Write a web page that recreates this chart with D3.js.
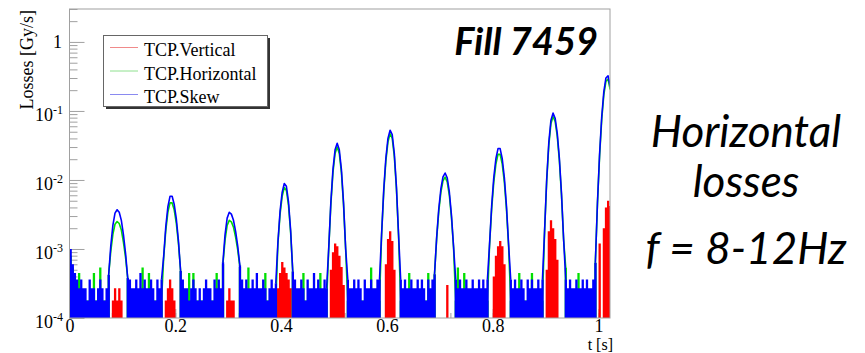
<!DOCTYPE html>
<html>
<head>
<meta charset="utf-8">
<script src="https://cdn.jsdelivr.net/npm/d3@7"></script>
<style>
  html, body { margin: 0; padding: 0; background: #fff; }
  svg { display: block; }
</style>
</head>
<body>
<svg id="chart" width="865" height="353"></svg>
<script>
// Collimator (TCP) beam-loss readings, decimated into 4 ms bins.
// Each bin keeps the highest and lowest reading, in units of 1e-4 Gy/s (0 = no signal).
const BIN_WIDTH = 0.004;   // s
const UNIT = 1e-4;         // Gy/s

const seriesNames = ["TCP.Vertical", "TCP.Horizontal", "TCP.Skew"];
const xTickValues = [0, 0.2, 0.4, 0.6, 0.8, 1];
const yTickExponents = [0, -1, -2, -3, -4];
const fillLabel = "Fill 7459";
const noteLines = ["Horizontal", "losses", "f = 8-12Hz"];

const skewMax = [
  10, 6, 4.5, 3.6, 2.7, 3.6, 2.7, 2.7, 1.8, 3.6, 2.7, 2.7, 1.8, 2.7, 3.6, 2.7, 1.8, 2.7,
  4.2, 11, 22, 33, 37, 34, 26, 16, 8.6, 3.8,
  3.6, 2.7, 2.7, 3.6, 2.7, 4.5, 2.7, 3.6, 2.7, 2.7, 3.6, 2.7, 1.8, 3.6, 2.7, 3.6,
  7.8, 21, 41, 58, 58, 44, 27, 13, 4.8,
  3.6, 2.7, 2.7, 1.8, 2.7, 3.6, 2.7, 1.8, 2.7, 1.8, 2.7, 3.6, 2.7, 2.7, 1.8, 3.6, 2.7, 3.6, 2.7,
  6.4, 16, 28, 34, 32, 26, 18, 11, 5.8,
  3.6, 2.7, 3.6, 2.7, 2.7, 3.6, 2.7, 4.5, 2.7, 2.7, 3.6, 2.7, 1.8, 2.7, 3.6, 2.7, 3.2,
  12.6, 35, 66, 89, 81, 48, 18.7, 4.7,
  3.6, 2.7, 2.7, 3.6, 2.7, 1.8, 3.6, 2.7, 2.7, 4.5, 2.7, 3.6, 2.7, 2.7, 3.6, 2.7,
  10.2, 47, 141, 273, 340, 273, 141, 47, 10.2,
  3.6, 2.7, 2.7, 3.6, 2.7, 3.6, 2.7, 1.8, 3.6, 2.7, 2.7, 3.6, 2.7, 2.7, 3.6, 3.6,
  16.8, 72, 206, 400, 526, 454, 242, 80, 16.3,
  3.6, 2.7, 3.6, 2.7, 2.7, 3.6, 2.7, 2.7, 3.6, 2.7, 3.6, 2.7, 1.8, 3.6, 2.7, 3.6,
  4.3, 14.6, 38, 74, 111, 126, 107, 67, 31, 10.8,
  3.6, 2.7, 3.6, 2.7, 2.7, 3.6, 2.7, 2.7, 3.6, 2.7, 2.7, 3.6, 2.7, 3.6, 2.7, 3.6,
  11.7, 42, 108, 203, 285, 285, 203, 108, 42, 11.7,
  3.6, 2.7, 3.6, 2.7, 2.7, 3.6, 2.7, 1.8, 3.6, 2.7, 3.6, 2.7, 2.7, 3.6, 2.7, 3.6,
  18, 101, 347, 726, 930, 785, 475, 206, 64, 14,
  3.6, 2.7, 3.6, 2.7, 2.7, 3.6, 2.7, 2.7, 3.6, 2.7, 3.6, 2.7, 2.7, 3.6,
  6.3, 47, 236, 809, 1890, 3005, 3236, 2270
];

const skewMin = [
  0,0,0,0, 0,0,0,0, 0,0,0,0, 0,0,0,0, 0,0,
  0, 11, 22, 33, 37, 34, 26, 16, 8.6, 0,
  0,0,0,0, 0,0,0,0, 0,0,0,0, 0,0,0,0,
  7.8, 21, 41, 58, 58, 44, 27, 13, 0,
  0,0,0,0, 0,0,0,0, 0,0,0,0, 0,0,0,0, 0,0,0,
  0, 16, 28, 34, 32, 26, 18, 11, 0,
  0,0,0,0, 0,0,0,0, 0,0,0,0, 0,0,0,0, 0,
  12.6, 35, 66, 89, 81, 48, 18.7, 0,
  0,0,0,0, 0,0,0,0, 0,0,0,0, 0,0,0,0,
  10.2, 47, 141, 273, 340, 273, 141, 47, 10.2,
  0,0,0,0, 0,0,0,0, 0,0,0,0, 0,0,0,0,
  16.8, 72, 206, 400, 526, 454, 242, 80, 16.3,
  0,0,0,0, 0,0,0,0, 0,0,0,0, 0,0,0,0,
  0, 14.6, 38, 74, 111, 126, 107, 67, 31, 10.8,
  0,0,0,0, 0,0,0,0, 0,0,0,0, 0,0,0,0,
  11.7, 42, 108, 203, 285, 285, 203, 108, 42, 11.7,
  0,0,0,0, 0,0,0,0, 0,0,0,0, 0,0,0,0,
  18, 101, 347, 726, 930, 785, 475, 206, 64, 14,
  0,0,0,0, 0,0,0,0, 0,0,0,0, 0,0,
  0, 47, 236, 809, 1890, 3005, 3236, 2270
];

const horizontalMax = [
  8, 5.4, 3.6, 2.7, 4.5, 1.8, 1.8, 1.8, 1.8, 1.8, 1.8, 4.5, 1.8, 1.8, 5.4, 1.8, 1.8, 1.8,
  4.2, 9.2, 16.3, 22.8, 25, 23.4, 18.8, 12.5, 7.5, 3.8,
  1.8, 1.8, 1.8, 1.8, 1.8, 1.8, 5.4, 1.8, 1.8, 4.5, 1.8, 1.8, 1.8, 1.8, 1.8, 1.8,
  7.4, 18.5, 34.3, 46.5, 46.5, 36.6, 23.3, 11.9, 4.8,
  1.8, 1.8, 1.8, 4.5, 1.8, 4.5, 1.8, 1.8, 1.8, 1.8, 1.8, 1.8, 1.8, 1.8, 1.8, 1.8, 4.5, 1.8, 1.8,
  6.0, 13.4, 21.9, 26, 24.7, 20.6, 14.9, 9.7, 5.5,
  1.8, 1.8, 1.8, 5.4, 1.8, 1.8, 1.8, 1.8, 1.8, 1.8, 1.8, 4.5, 1.8, 1.8, 1.8, 1.8, 1.8,
  12, 31.7, 58, 77.5, 70.6, 42.8, 17.4, 4.7,
  1.8, 1.8, 1.8, 1.8, 4.5, 1.8, 1.8, 1.8, 1.8, 1.8, 1.8, 1.8, 4.5, 1.8, 1.8, 1.8,
  9.9, 43.9, 127.6, 242, 300, 242, 128, 44, 9.9,
  1.8, 1.8, 1.8, 1.8, 1.8, 1.8, 1.8, 1.8, 1.8, 1.8, 1.8, 5.4, 1.8, 1.8, 1.8, 1.8,
  16.2, 67, 187, 357, 467, 404, 219, 74, 15.7,
  1.8, 1.8, 1.8, 1.8, 4.5, 1.8, 1.8, 1.8, 1.8, 1.8, 1.8, 1.8, 1.8, 4.5, 1.8, 1.8,
  4.3, 13.9, 34.8, 65.9, 97.3, 110, 94, 60, 28.6, 10.4,
  1.8, 5.4, 1.8, 1.8, 4.5, 1.8, 1.8, 1.8, 1.8, 1.8, 1.8, 1.8, 1.8, 1.8, 1.8, 1.8,
  11.2, 37.8, 93, 170, 235, 235, 170, 93, 37.8, 11.2,
  1.8, 1.8, 1.8, 1.8, 4.5, 1.8, 1.8, 1.8, 1.8, 1.8, 4.5, 1.8, 1.8, 1.8, 1.8, 1.8,
  17.4, 94.4, 316, 651, 830, 703, 430, 190, 60, 13.6,
  5.4, 1.8, 1.8, 1.8, 1.8, 1.8, 4.5, 1.8, 1.8, 1.8, 1.8, 1.8, 1.8, 1.8,
  6.3, 45, 220, 740, 1705, 2690, 2893, 2043
];

const horizontalMin = [
  0,0,0,0, 0,0,0,0, 0,0,0,0, 0,0,0,0, 0,0,
  0, 9.2, 16.3, 22.8, 25, 23.4, 18.8, 12.5, 7.5, 0,
  0,0,0,0, 0,0,0,0, 0,0,0,0, 0,0,0,0,
  7.4, 18.5, 34.3, 46.5, 46.5, 36.6, 23.3, 11.9, 0,
  0,0,0,0, 0,0,0,0, 0,0,0,0, 0,0,0,0, 0,0,0,
  0, 13.4, 21.9, 26, 24.7, 20.6, 14.9, 9.7, 0,
  0,0,0,0, 0,0,0,0, 0,0,0,0, 0,0,0,0, 0,
  12, 31.7, 58, 77.5, 70.6, 42.8, 17.4, 0,
  0,0,0,0, 0,0,0,0, 0,0,0,0, 0,0,0,0,
  9.9, 43.9, 127.6, 242, 300, 242, 128, 44, 9.9,
  0,0,0,0, 0,0,0,0, 0,0,0,0, 0,0,0,0,
  16.2, 67, 187, 357, 467, 404, 219, 74, 15.7,
  0,0,0,0, 0,0,0,0, 0,0,0,0, 0,0,0,0,
  0, 13.9, 34.8, 65.9, 97.3, 110, 94, 60, 28.6, 10.4,
  0,0,0,0, 0,0,0,0, 0,0,0,0, 0,0,0,0,
  11.2, 37.8, 93, 170, 235, 235, 170, 93, 37.8, 11.2,
  0,0,0,0, 0,0,0,0, 0,0,0,0, 0,0,0,0,
  17.4, 94.4, 316, 651, 830, 703, 430, 190, 60, 13.6,
  0,0,0,0, 0,0,0,0, 0,0,0,0, 0,0,
  0, 45, 220, 740, 1705, 2690, 2893, 2043
];

// Vertical losses only show up during the pulses; lowest reading is always 0.
const verticalMax = [
  0,0,0,0, 0,0,0,0, 0,0,0,0, 0,0,0,0,
  0,0,0,0, 1.8,2.7,1.8,2.7, 1.8,0,0,0, 0,0,0,0,
  0,0,0,0, 0,0,0,0, 0,0,0,0, 0,1.8,2.7,3.6,
  2.7,1.8,0,0, 0,0,0,0, 0,0,0,0, 0,0,0,0,
  0,0,0,0, 0,0,0,0, 0,0,1.8,2.7, 1.8,1.8,0,0,
  0,0,0,0, 0,0,0,0, 0,0,0,0, 0,0,0,0,
  0,0,2.7,4.5, 6.5,5.4,4.5,3.6, 2.7,0,0,0, 0,0,0,0,
  0,0,0,0, 0,0,0,0, 0,0,0,5, 9,12,11,8,
  5.5,3,0,0, 0,0,0,0, 0,0,0,0, 0,0,0,0,
  0,0,0,0, 0,6,14,18, 13,5,0,0, 0,0,0,0,
  0,0,0,0, 0,0,0,0, 0,0,0,0, 0,0,0,0,
  0,0,3,0, 0,0,0,0, 0,0,0,0, 0,0,0,0,
  0,0,0,0, 0,0,0,0, 4,8,11,13, 11,6,0,0,
  0,0,0,0, 0,0,0,0, 0,0,0,0, 0,0,0,0,
  0,5,18,26, 20,14,7,0, 0,0,0,0, 0,0,0,0,
  0,0,0,0, 0,0,0,0, 0,0,12,0, 20,40,50,42
];

const seriesColors = ["#ff0000", "#00e000", "#0000ff"];
const legendColors = ["#f08a8a", "#8ee08e", "#8a8af0"];

// ---------------------------------------------------------------------------
const svg = d3.select("#chart");
const serif = "'Liberation Serif', 'Times New Roman', serif";
const frame = { left: 69.5, right: 610, top: 9, bottom: 318 };
const axisGrey = "#a0a0a0";

const x = d3.scaleLinear().domain([0, 1.0217]).range([frame.left, frame.right]);
const y = d3.scaleLog().domain([1e-4, 3]).range([frame.bottom, frame.top]);
const yv = v => y(Math.max(v * UNIT, 1e-4));

svg.append("clipPath").attr("id", "plotClip")
  .append("rect")
  .attr("x", frame.left).attr("y", frame.top)
  .attr("width", frame.right - frame.left).attr("height", frame.bottom - frame.top);

// --- ticks (drawn underneath the data, as the histograms are overlaid) ---
const minorX = d3.range(0, 1.02, 0.04);
const xMinorAxis = d3.axisBottom(x).tickValues(minorX).tickSize(-5).tickFormat("");
const xAxis = d3.axisBottom(x).tickValues(xTickValues).tickSize(-9)
  .tickFormat(d3.format("~g"));

const yMinorVals = [];
for (let e = -4; e <= 0; e++) for (let m = 2; m <= 9; m++) {
  const v = m * Math.pow(10, e);
  if (v <= 3) yMinorVals.push(v);
}
const yMajorVals = yTickExponents.map(e => Math.pow(10, e));
const yMinorAxis = d3.axisLeft(y).tickValues(yMinorVals).tickSize(-8).tickFormat("");
const yAxis = d3.axisLeft(y).tickValues(yMajorVals).tickSize(-15).tickFormat("");

function styleAxis(g) {
  g.select(".domain").remove();
  g.selectAll(".tick line").attr("stroke", axisGrey).attr("stroke-width", 1);
}

svg.append("g").attr("transform", `translate(0,${frame.bottom})`).call(xMinorAxis).call(styleAxis);
const gx = svg.append("g").attr("transform", `translate(0,${frame.bottom})`).call(xAxis).call(styleAxis);
gx.selectAll(".tick text")
  .attr("font-family", serif).attr("font-size", 18).attr("fill", "#000")
  .attr("dy", null).attr("y", 14);

svg.append("g").attr("transform", `translate(${frame.left},0)`).call(yMinorAxis).call(styleAxis);
svg.append("g").attr("transform", `translate(${frame.left},0)`).call(yAxis).call(styleAxis);

// y tick labels: 1, 10^-1 ... 10^-4
const yLab = svg.append("g").attr("font-family", serif).attr("fill", "#000");
yTickExponents.forEach(e => {
  const ty = y(Math.pow(10, e));
  if (e === 0) {
    yLab.append("text").attr("x", 62).attr("y", ty + 6)
      .attr("text-anchor", "end").attr("font-size", 18).text("1");
  } else {
    const t = yLab.append("text").attr("x", 63).attr("y", ty + 10)
      .attr("text-anchor", "end").attr("font-size", 18);
    t.append("tspan").text("10");
    t.append("tspan").attr("font-size", 12).attr("dy", -7).text(String(e));
  }
});

// --- data ---
const plot = svg.append("g").attr("clip-path", "url(#plotClip)");
const binPx = x(BIN_WIDTH) - x(0);

// Each bin is a vertical span from its lowest to its highest reading; where the
// signal is clear of the noise floor the bins are also joined by a line.
function drawSeries(maxArr, minArr, color, withLine) {
  const bins = maxArr.map((v, i) => ({ i, hi: v, lo: minArr ? minArr[i] : 0 }));
  const spans = d3.path();
  bins.filter(d => d.lo < d.hi && d.hi * UNIT > 1e-4).forEach(d => {
    const top = yv(d.hi), bot = yv(d.lo);
    spans.rect(x(d.i * BIN_WIDTH), top, binPx + 0.2, Math.max(0, bot - top));
  });
  const g = plot.append("g");
  g.append("path").attr("d", spans.toString()).attr("fill", color);
  if (withLine) {
    const clear = bins.map(d => d.lo > 0);
    const joined = (d) => clear[d.i] || clear[d.i - 1] || clear[d.i + 1];
    const line = d3.line()
      .defined(joined)
      .x(d => x((d.i + 0.5) * BIN_WIDTH))
      .y(d => yv(d.hi));
    g.append("path").attr("d", line(bins))
      .attr("fill", "none").attr("stroke", color)
      .attr("stroke-width", 1.6).attr("stroke-linejoin", "round");
  }
}

drawSeries(verticalMax, null, seriesColors[0], false);
drawSeries(horizontalMax, horizontalMin, seriesColors[1], true);
drawSeries(skewMax, skewMin, seriesColors[2], true);

// --- frame ---
svg.append("rect")
  .attr("x", frame.left).attr("y", frame.top)
  .attr("width", frame.right - frame.left).attr("height", frame.bottom - frame.top)
  .attr("fill", "none").attr("stroke", axisGrey).attr("stroke-width", 1);

// --- axis titles ---
svg.append("text")
  .attr("transform", `translate(33,${frame.top + 1}) rotate(-90)`)
  .attr("text-anchor", "end").attr("font-family", serif).attr("font-size", 18)
  .text("Losses [Gy/s]");
svg.append("text")
  .attr("x", 613).attr("y", 349.5).attr("text-anchor", "end")
  .attr("font-family", serif).attr("font-size", 16)
  .text("t [s]");

// --- legend ---
const leg = svg.append("g");
leg.append("rect").attr("x", 106).attr("y", 38).attr("width", 164).attr("height", 71).attr("fill", "#333");
leg.append("rect").attr("x", 103.5).attr("y", 35.5).attr("width", 164).attr("height", 71)
  .attr("fill", "#fff").attr("stroke", "#666").attr("stroke-width", 1);
const legendBaselines = [56, 79.5, 103];
seriesNames.forEach((name, k) => {
  leg.append("line").attr("x1", 110).attr("x2", 138)
    .attr("y1", legendBaselines[k] - 8.5).attr("y2", legendBaselines[k] - 8.5)
    .attr("stroke", legendColors[k]).attr("stroke-width", 1);
  leg.append("text").attr("x", 144).attr("y", legendBaselines[k])
    .attr("font-family", serif).attr("font-size", 18).text(name);
});

// --- annotations ---
svg.append("text")
  .attr("x", 598).attr("y", 55).attr("text-anchor", "end")
  .attr("font-family", "Lato, 'Open Sans', sans-serif")
  .attr("font-weight", "bold").attr("font-style", "italic").attr("font-size", 38)
  .text(fillLabel);

const noteBaselines = [146.7, 196.7, 264];
noteLines.forEach((t, k) => {
  svg.append("text")
    .attr("x", 746).attr("y", noteBaselines[k]).attr("text-anchor", "middle")
    .attr("font-family", "Lato, 'Open Sans', sans-serif")
    .attr("font-style", "italic").attr("font-size", 44)
    .text(t);
});
</script>
</body>
</html>
